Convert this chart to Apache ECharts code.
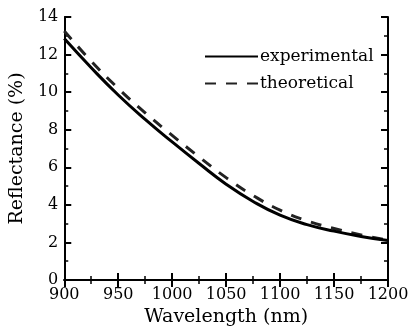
<!DOCTYPE html>
<html>
<head>
<meta charset="utf-8">
<script src="https://cdn.jsdelivr.net/npm/echarts@6/dist/echarts.min.js"></script>
<style>
  html, body { margin: 0; padding: 0; background: #fff; }
  #chart { width: 416px; height: 332px; }
</style>
</head>
<body>
<div id="chart"></div>
<script>
const wavelengths = [900, 925, 950, 975, 1000, 1025, 1050, 1075, 1100, 1125, 1150, 1175, 1200];
const experimental = [12.85, 11.3, 9.85, 8.55, 7.35, 6.2, 5.1, 4.18, 3.45, 2.95, 2.6, 2.32, 2.1];
const theoretical = [13.25, 11.65, 10.2, 8.9, 7.7, 6.55, 5.45, 4.5, 3.72, 3.15, 2.74, 2.4, 2.12];

const serif = "DejaVu Serif";
const black = "#000";

function pairs(values) {
  return wavelengths.map((w, i) => [w, values[i]]);
}

const chart = echarts.init(document.getElementById("chart"), null, { renderer: "canvas" });

// inward ticks on all four sides, like the original plot frame
const frameAxis = {
  axisLine: { show: true, lineStyle: { color: black, width: 2 } },
  axisTick: { show: true, inside: true, length: 7, lineStyle: { color: black, width: 2 } },
  minorTick: { show: true, splitNumber: 2, length: 4, lineStyle: { color: black, width: 1.5 } },
  splitLine: { show: false },
};

const tickLabel = {
  fontFamily: serif,
  fontSize: 16,
  color: black,
  formatter: (v) => String(v),
};

chart.setOption({
  animation: false,
  grid: { left: 63, right: 28, top: 17, bottom: 48 },
  legend: {
    orient: "vertical",
    left: 199,
    top: 43,
    itemWidth: 53,
    itemHeight: 14,
    itemGap: 10,
    itemStyle: { opacity: 0 },
    textStyle: { fontFamily: serif, fontSize: 17, color: black, padding: [0, 0, 0, -3] },
    data: ["experimental", "theoretical"],
  },
  xAxis: [
    {
      ...frameAxis,
      type: "value",
      min: 900,
      max: 1200,
      interval: 50,
      name: "Wavelength (nm)",
      nameLocation: "middle",
      nameGap: 28,
      nameTextStyle: { fontFamily: serif, fontSize: 19, color: black },
      axisLabel: { ...tickLabel, margin: 7 },
    },
    {
      ...frameAxis,
      type: "value",
      position: "top",
      min: 900,
      max: 1200,
      interval: 50,
      axisLabel: { show: false },
    },
  ],
  yAxis: [
    {
      ...frameAxis,
      type: "value",
      min: 0,
      max: 14,
      interval: 2,
      name: "Reflectance (%)",
      nameLocation: "middle",
      nameGap: 30,
      nameTextStyle: { fontFamily: serif, fontSize: 19, color: black },
      axisLabel: { ...tickLabel, margin: 6 },
    },
    {
      ...frameAxis,
      type: "value",
      position: "right",
      min: 0,
      max: 14,
      interval: 2,
      axisLabel: { show: false },
    },
  ],
  series: [
    {
      name: "experimental",
      type: "line",
      smooth: true,
      showSymbol: false,
      symbol: "none",
      data: pairs(experimental),
      lineStyle: { color: black, width: 3 },
      itemStyle: { color: black },
      z: 3,
    },
    {
      name: "theoretical",
      type: "line",
      smooth: true,
      showSymbol: false,
      symbol: "none",
      data: pairs(theoretical),
      lineStyle: { color: "#222", width: 3, type: [11, 10] },
      itemStyle: { color: "#222" },
      z: 2,
    },
  ],
});
</script>
</body>
</html>
